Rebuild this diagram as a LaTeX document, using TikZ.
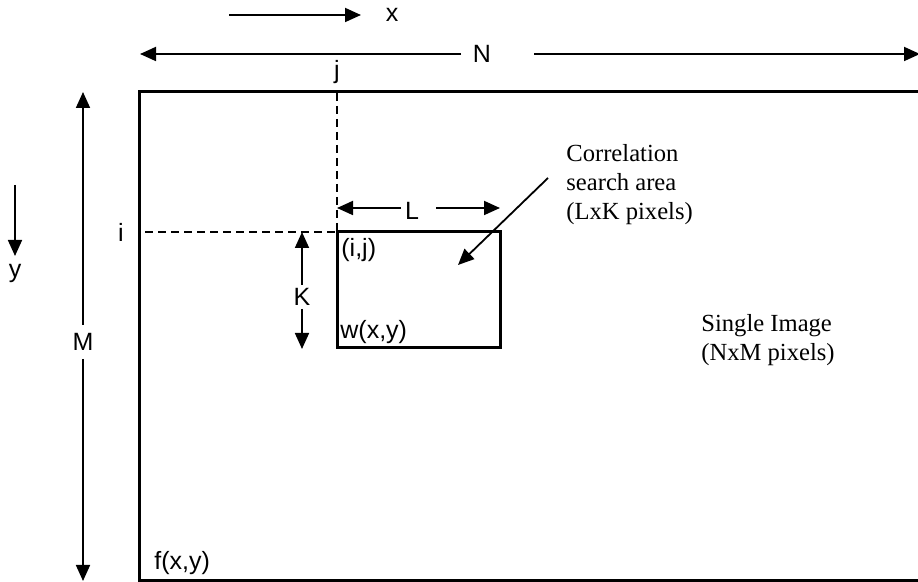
\documentclass[tikz,border=0pt]{standalone}
\usepackage{fontspec}
\setmainfont{Liberation Serif}
\setsansfont{Liberation Sans}
\usetikzlibrary{arrows.meta}
\tikzset{
  thinarrow/.style={line width=0.9pt,-{Triangle[length=8pt,width=7pt]}},
  frame/.style={line width=1.5pt},
  guide/.style={line width=0.9pt,dash pattern=on 4pt off 2.5pt},
  sanslab/.style={font=\sffamily\fontsize{12.5}{14}\selectfont,inner sep=0pt},
  seriflab/.style={font=\rmfamily\fontsize{12.3}{14.5}\selectfont,inner sep=0pt,align=left}
}
\begin{document}
\begin{tikzpicture}[x=0.5pt,y=-0.5pt]
\clip (0,0) rectangle (918,582);
\fill[white] (0,0) rectangle (918,582);
% x direction
\coordinate (xs) at (229,15);
\coordinate (xe) at (361,15);
\draw[thinarrow] (xs) -- (xe);
\node[sanslab] (xlab) at (392,15) {x};
% N dimension
\node[sanslab] (Nlab) at (482,54) {N};
\coordinate (Nl) at (140,54);
\coordinate (Nlgap) at (461,54);
\coordinate (Nrgap) at (534,54);
\coordinate (Nr) at (920,54);
\draw[thinarrow] (Nlgap) -- (Nl);
\draw[thinarrow] (Nrgap) -- (Nr);
% big image rectangle
\draw[frame] (139,92) rectangle (960,581);
% j guide
\node[sanslab] (jlab) at (337,72) {j};
\coordinate (jtop) at (337,93);
\coordinate (ij) at (337,232);
\draw[guide] (jtop) -- (ij);
% i guide
\node[sanslab] (ilab) at (121,232) {i};
\coordinate (ileft) at (145,232);
\draw[guide] (ileft) -- (ij);
% M dimension
\node[sanslab] (Mlab) at (83,342) {M};
\coordinate (Mt) at (83,92);
\coordinate (Mb) at (83,581);
\coordinate (Mtg) at (83,325);
\coordinate (Mbg) at (83,359);
\draw[thinarrow] (Mtg) -- (Mt);
\draw[thinarrow] (Mbg) -- (Mb);
% y direction
\coordinate (ys) at (15,185);
\coordinate (ye) at (15,256);
\draw[thinarrow] (ys) -- (ye);
\node[sanslab] (ylab) at (15,273) {y};
% search window
\draw[frame] (ij) rectangle (500,348);
\node[sanslab,anchor=west] (ijlab) at (341,250) {(i,j)};
\node[sanslab,anchor=west] (wlab) at (340,332) {w(x,y)};
% L dimension
\node[sanslab] (Llab) at (412,211) {L};
\coordinate (Ll) at (337,208);
\coordinate (Llg) at (401,208);
\coordinate (Lrg) at (436,208);
\coordinate (Lr) at (500,208);
\draw[thinarrow] (Llg) -- (Ll);
\draw[thinarrow] (Lrg) -- (Lr);
% K dimension
\node[sanslab] (Klab) at (302,297) {K};
\coordinate (Kt) at (302,232);
\coordinate (Kb) at (302,349);
\coordinate (Ktg) at (302,285);
\coordinate (Kbg) at (302,309);
\draw[thinarrow] (Ktg) -- (Kt);
\draw[thinarrow] (Kbg) -- (Kb);
% f label
\node[sanslab,anchor=west] (flab) at (154,563) {f(x,y)};
% annotations
\node[seriflab,anchor=north west] (corr) at (566,144) {Correlation\\search area\\(LxK pixels)};
\coordinate (cs) at (548,178);
\coordinate (ce) at (458,265);
\draw[thinarrow] (cs) -- (ce);
\node[seriflab,anchor=north west] (single) at (701,314) {Single Image\\(NxM pixels)};
\end{tikzpicture}
\end{document}
